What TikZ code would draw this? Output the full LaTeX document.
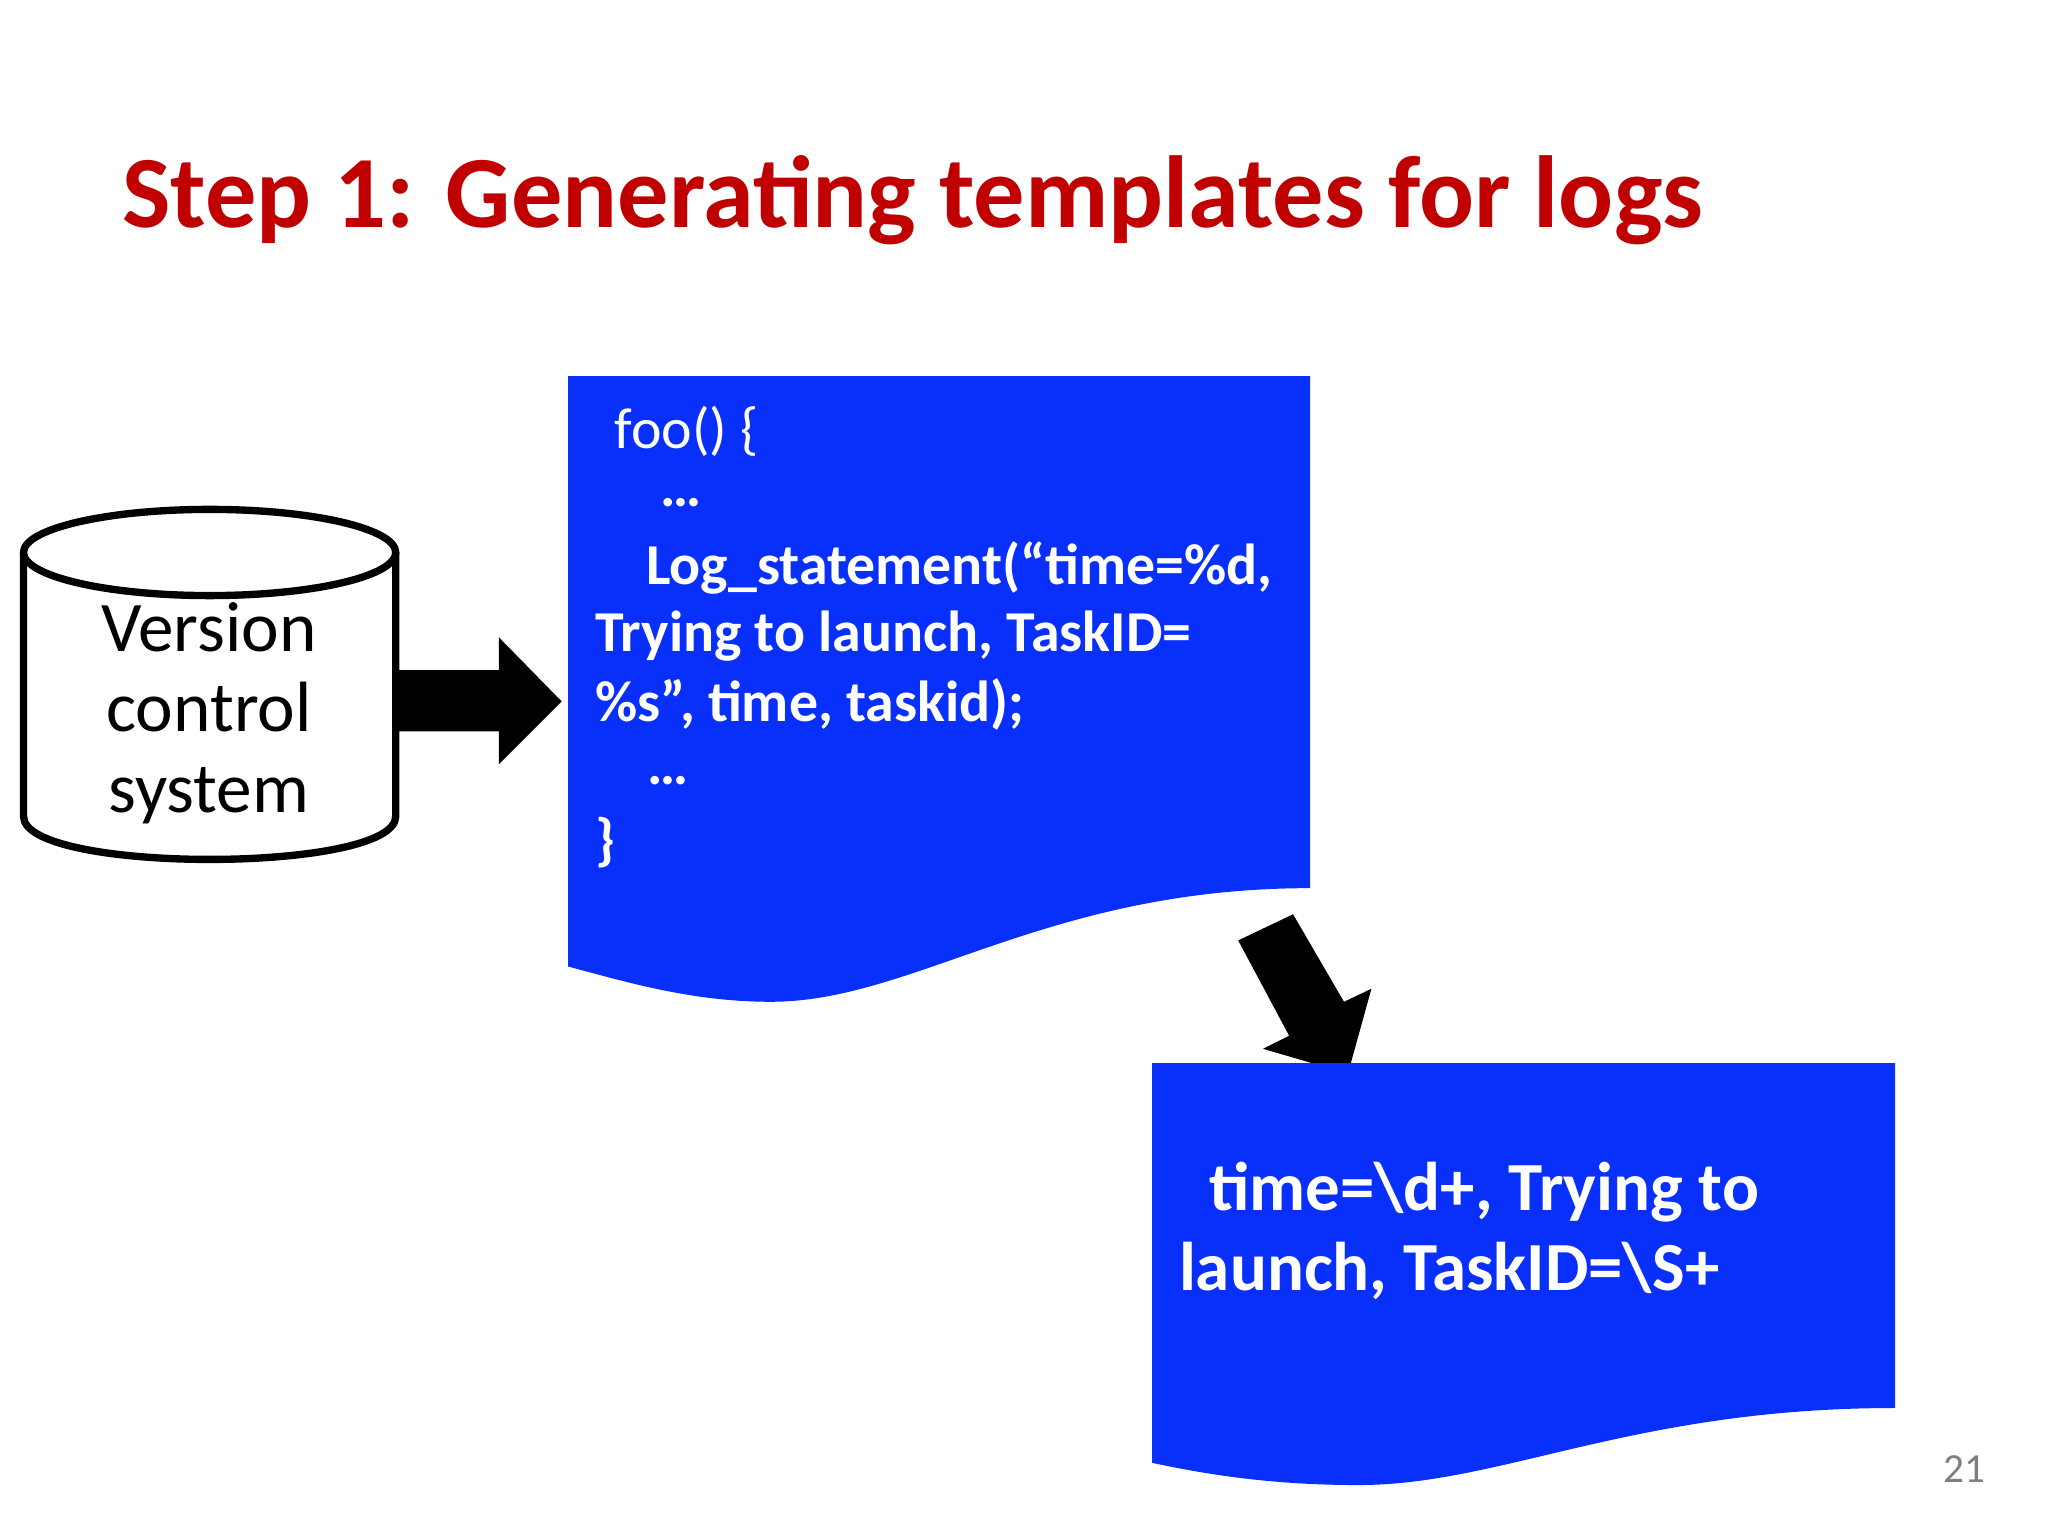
\documentclass[tikz,border=0pt]{standalone}
\usepackage{fontspec}
\setmainfont{Carlito}
\definecolor{docblue}{RGB}{8,48,250}
\definecolor{titlered}{RGB}{192,0,0}
\tikzset{x=0.01cm,y=-0.01cm,
 doc/.style={fill=docblue,draw=none},
 code/.style={anchor=west,text=white,font=\fontsize{12.6}{15}\selectfont\bfseries,inner sep=0pt},
 big/.style={text=white,font=\fontsize{15}{18}\selectfont\bfseries,inner sep=0pt,anchor=west},
 blk/.style={fill=black,draw=none}}
\begin{document}
\begin{tikzpicture}
\useasboundingbox[fill=white] (0,0) rectangle (1568,1176);
\node[anchor=west,text=titlered,font=\fontsize{22.3}{26}\selectfont\bfseries,inner sep=0pt] (title) at (93,153) {Step 1: Generating templates for logs};
% cylinder
\draw[line width=1.6pt,fill=white] (18,423) -- (18,625) .. controls (18,669) and (303,669) .. (303,625) -- (303,423);
\draw[line width=1.6pt,fill=white] (160.5,423) ellipse [x radius=142.5,y radius=33];
\node[font=\fontsize{15.5}{17.6}\selectfont,align=center,inner sep=0pt] (vcs) at (160,546) {Version\\control\\system};
% right arrow
\path[blk] (303,513) -- (382,513) -- (382,488) -- (430,537) -- (382,585) -- (382,560) -- (303,560) -- cycle;
% document 1
\path[doc] (435,288) -- (1003,288) -- (1003,680) .. controls (800,680) and (700,767) .. (590,767) .. controls (530,767) and (480,752) .. (435,740) -- cycle;
\node[code,font=\fontsize{12.6}{15}\selectfont] (l1) at (470,330) {foo() \{};
\node[code] (l2) at (505,385) {…};
\node[code] (l3) at (494,435) {Log\_statement(“time=\%d,};
\node[code] (l4) at (455,487) {Trying to launch, TaskID=};
\node[code] (l5) at (455,539) {\%s”, time, taskid);};
\node[code] (l6) at (495,598) {…};
\node[code] (l7) at (455,645) {\}};
% diagonal arrow
\path[blk] (990,700) -- (1029,767) -- (1050,757) -- (1032,822) -- (967,803) -- (987,793) -- (948,720) -- cycle;
% document 2
\path[doc] (882,814) -- (1451,814) -- (1451,1078) .. controls (1250,1078) and (1150,1137) .. (1040,1137) .. controls (970,1137) and (920,1128) .. (882,1120) -- cycle;
\node[big] (t1) at (925,913) {time=\textbackslash d+, Trying to};
\node[big] (t2) at (902,973) {launch, TaskID=\textbackslash S+};
\node[text=gray,font=\fontsize{9}{10}\selectfont,inner sep=0pt] (num) at (1504,1125) {21};
\end{tikzpicture}
\end{document}
